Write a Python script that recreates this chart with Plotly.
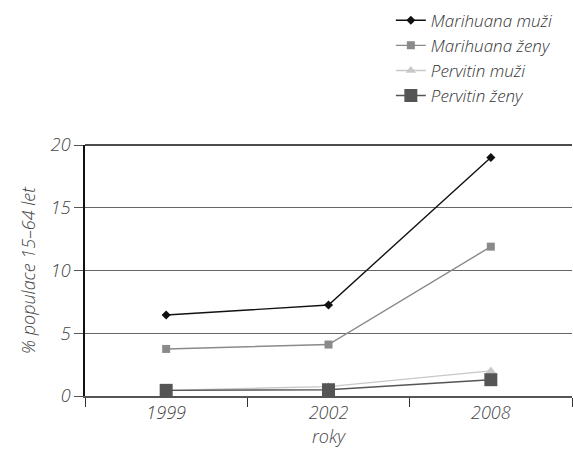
import plotly.graph_objects as go

# Survey years (categorical x axis)
years = ["1999", "2002", "2008"]

# Share of population aged 15–64 (%)
marihuana_muzi = [6.45, 7.25, 19.0]
marihuana_zeny = [3.75, 4.1, 11.9]
pervitin_muzi = [0.45, 0.75, 2.0]
pervitin_zeny = [0.45, 0.5, 1.3]

y_ticks = [0, 5, 10, 15, 20]

FONT = dict(family="Open Sans", size=18, color="#444444", weight=300)
LEGEND_FONT = dict(family="Open Sans", size=17, color="#333333", weight=300)


def it(s):
    return f"<i>{s}</i>"


fig = go.Figure()

series = [
    ("Marihuana muži", marihuana_muzi, "#111111", "diamond", 7, 1.4),
    ("Marihuana ženy", marihuana_zeny, "#8a8a8a", "square", 8, 1.4),
    ("Pervitin muži", pervitin_muzi, "#c8c8c8", "triangle-up", 9, 1.4),
    ("Pervitin ženy", pervitin_zeny, "#555555", "square", 13, 1.4),
]

for name, vals, color, symbol, msize, lw in series:
    fig.add_trace(go.Scatter(
        x=years, y=vals, name=it(name), mode="lines+markers",
        line=dict(color=color, width=lw),
        marker=dict(symbol=symbol, size=msize, color=color, line=dict(width=0)),
    ))

# top frame line of the plot area
fig.add_shape(type="line", xref="paper", yref="paper", x0=0, x1=1, y0=1, y1=1,
              line=dict(color="#111111", width=1.5))

fig.update_layout(
    width=573, height=450,
    margin=dict(l=85, r=1, t=145, b=54),
    paper_bgcolor="white", plot_bgcolor="white",
    font=FONT,
    showlegend=True,
    legend=dict(
        x=0.628, y=1.567, xanchor="left", yanchor="top",
        font=LEGEND_FONT,
        tracegroupgap=0, itemwidth=30, bgcolor="rgba(0,0,0,0)",
    ),
    xaxis=dict(
        type="category", tickson="boundaries", range=[-0.5, 2.5],
        tickvals=years, ticktext=[it(y) for y in years],
        ticks="outside", ticklen=9, tickcolor="#333333", tickwidth=1,
        showline=True, linecolor="#555555", linewidth=1.5,
        showgrid=False, zeroline=False,
        tickfont=FONT,
        title=dict(text=it("roky"), font=FONT, standoff=2),
    ),
    yaxis=dict(
        range=[0, 20], tickvals=y_ticks, ticktext=[it(v) for v in y_ticks],
        ticks="outside", ticklen=9, tickcolor="#555555",
        showline=True, linecolor="#111111", linewidth=1.5,
        showgrid=True, gridcolor="#666666", gridwidth=1,
        zeroline=False,
        tickfont=FONT,
        title=dict(text=it("% populace 15–64 let"), font=FONT, standoff=11),
    ),
)

fig.write_html("out.html")
